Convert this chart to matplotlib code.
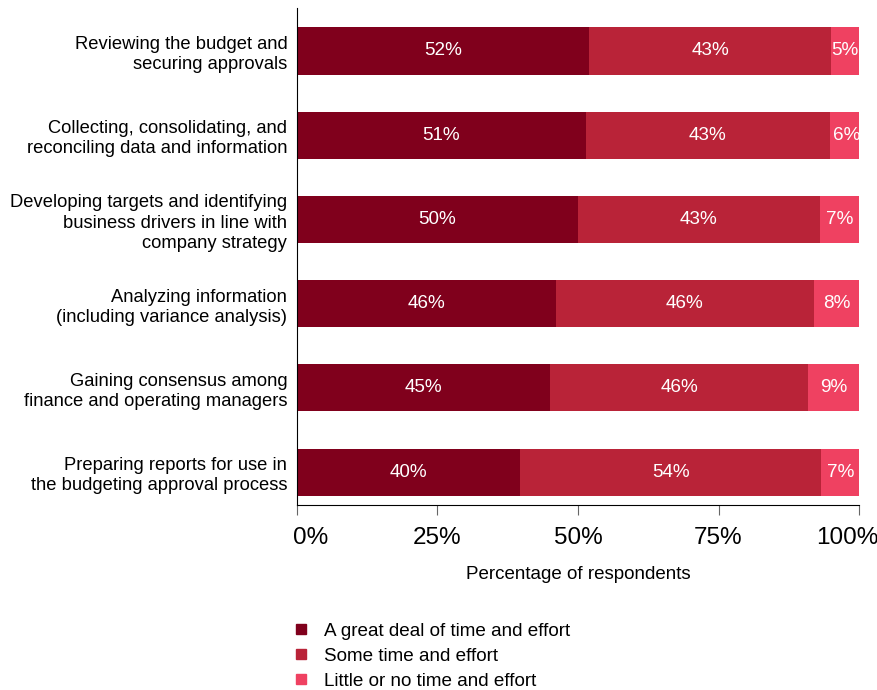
import matplotlib.pyplot as plt
from matplotlib.lines import Line2D
from matplotlib.transforms import ScaledTranslation

# categories, top to bottom
categories = [
    "Reviewing the budget and\nsecuring approvals",
    "Collecting, consolidating, and\nreconciling data and information",
    "Developing targets and identifying\nbusiness drivers in line with\ncompany strategy",
    "Analyzing information\n(including variance analysis)",
    "Gaining consensus among\nfinance and operating managers",
    "Preparing reports for use in\nthe budgeting approval process",
]
great_deal = [52.0, 51.4, 50.0, 46.0, 45.0, 39.7]
some = [43.0, 43.4, 43.0, 46.0, 46.0, 53.6]
little = [5.0, 6.1, 7.0, 8.0, 9.0, 6.8]

series_names = ["A great deal of time and effort", "Some time and effort",
                "Little or no time and effort"]
colors = ["#80001c", "#b92338", "#ef4161"]
x_ticks = [0, 25, 50, 75, 100]

plt.rcParams['font.family'] = ['Liberation Sans', 'DejaVu Sans']

fig = plt.figure(figsize=(8.78, 6.9), dpi=100)
ax = fig.add_axes([297 / 878, 1 - 505 / 690, (859 - 297) / 878, 497 / 690])

y = list(range(len(categories)))
left = [0.0] * len(categories)
for vals, name, col in zip([great_deal, some, little], series_names, colors):
    bars = ax.barh(y, vals, left=left, height=0.56, color=col, label=name)
    for b, v in zip(bars, vals):
        ax.text(b.get_x() + b.get_width() / 2, b.get_y() + b.get_height() / 2,
                f"{v:.0f}%", ha='center', va='center', color='white', fontsize=13.6)
    left = [l + v for l, v in zip(left, vals)]

ax.set_ylim(len(categories) - 1 + 0.39, -0.51)
ax.set_xlim(0, 100)
ax.set_yticks(y)
ax.set_yticklabels(categories, fontsize=13.2, linespacing=1.25)
ax.tick_params(axis='y', length=0, pad=7)
ax.set_xticks(x_ticks)
ax.set_xticklabels([f"{t}%" for t in x_ticks], fontsize=17.5)
ax.tick_params(axis='x', length=7, color='#666666', pad=9)
ax.set_xlabel("Percentage of respondents", fontsize=13.5, labelpad=12)

# nudge the end tick labels inwards like the original
xlabels = ax.get_xticklabels()
xlabels[0].set_transform(xlabels[0].get_transform() + ScaledTranslation(14 / 100, 0, fig.dpi_scale_trans))
xlabels[-1].set_transform(xlabels[-1].get_transform() + ScaledTranslation(-12 / 100, 0, fig.dpi_scale_trans))

for s in ['top', 'right']:
    ax.spines[s].set_visible(False)
ax.spines['left'].set_color('black')
ax.spines['bottom'].set_color('black')

handles = [Line2D([], [], marker='s', linestyle='none', markersize=7.5,
                  markerfacecolor=c, markeredgecolor=c) for c in colors]
fig.legend(handles, series_names, loc='upper left', bbox_to_anchor=(284 / 878, 1 - 615 / 690),
           frameon=False, fontsize=13.6, handletextpad=0.7, labelspacing=0.42,
           borderaxespad=0, handlelength=1.0)

fig.savefig("out.png", dpi=100)
